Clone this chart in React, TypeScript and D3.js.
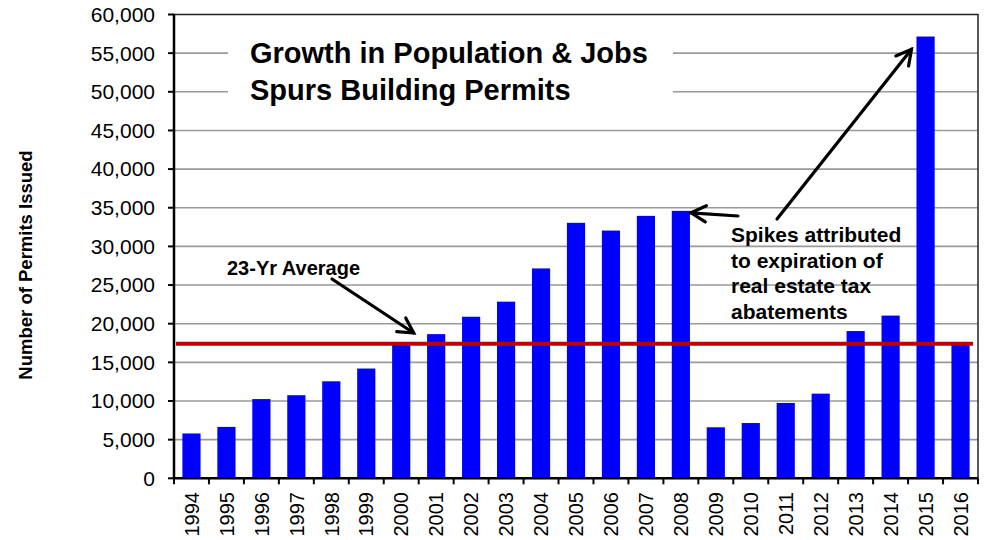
import * as d3 from "d3";
import React from "react";

const years = [
  "1994", "1995", "1996", "1997", "1998", "1999", "2000", "2001", "2002", "2003", "2004", "2005",
  "2006", "2007", "2008", "2009", "2010", "2011", "2012", "2013", "2014", "2015", "2016",
];
const permits = [
  5800, 6650, 10250, 10750, 12550, 14200, 17300, 18650, 20900, 22850, 27150, 33050,
  32050, 33950, 34600, 6600, 7150, 9750, 10950, 19050, 21050, 57150, 17300,
];
const average = 17400;
const yTicks = d3.range(0, 60001, 5000);
const titleLines = ["Growth in Population & Jobs", "Spurs Building Permits"];
const avgLabel = "23-Yr Average";
const spikeLines = ["Spikes attributed", "to expiration of", "real estate tax", "abatements"];

const W = 988;
const H = 540;
const left = 174;
const right = 978;
const top = 14.5;
const bottom = 478.3;
const font = "'Liberation Sans', Arial, sans-serif";

// open arrow: line plus two short head strokes
function Arrow({ x1, y1, x2, y2 }: { x1: number; y1: number; x2: number; y2: number }) {
  const a = Math.atan2(y2 - y1, x2 - x1);
  const len = 17;
  const spread = 0.5;
  const h1 = [x2 - len * Math.cos(a - spread), y2 - len * Math.sin(a - spread)];
  const h2 = [x2 - len * Math.cos(a + spread), y2 - len * Math.sin(a + spread)];
  return (
    <g stroke="#000" strokeWidth={3.2} fill="none" strokeLinecap="round">
      <line x1={x1} y1={y1} x2={x2} y2={y2} />
      <polyline points={`${h1[0]},${h1[1]} ${x2},${y2} ${h2[0]},${h2[1]}`} />
    </g>
  );
}

export default function App() {
  const x = d3.scaleBand<string>().domain(years).range([left, right]).paddingInner(0.48).paddingOuter(0.24);
  const y = d3.scaleLinear().domain([0, 60000]).range([bottom, top]);
  const step = x.step();
  const bw = x.bandwidth();
  const fmt = d3.format(",");

  const i2008 = years.indexOf("2008");
  const i2001 = years.indexOf("2001");

  return (
    <svg width={W} height={H} style={{ position: "absolute", left: 0, top: 0, background: "#fff" }} fontFamily={font}>
      {/* gridlines */}
      {yTicks.slice(1, -1).map((t) => (
        <line key={t} x1={left} x2={right} y1={y(t)} y2={y(t)} stroke="#9a9a9a" strokeWidth={1.6} />
      ))}
      {/* title box masks gridlines */}
      <rect x={228} y={32} width={445} height={80} fill="#fff" />
      {titleLines.map((s, i) => (
        <text key={s} x={250} y={63 + i * 37} fontSize={29} fontWeight="bold" fill="#000">
          {s}
        </text>
      ))}

      {/* bars */}
      {years.map((yr, i) => (
        <rect key={yr} x={x(yr)} y={y(permits[i])} width={bw} height={bottom - y(permits[i])} fill="#0000ff" />
      ))}

      {/* average line */}
      <line x1={left + 2} x2={right - 5} y1={y(average)} y2={y(average)} stroke="#c00000" strokeWidth={4} />

      {/* frame */}
      <rect x={left} y={top} width={right - left} height={bottom - top} fill="none" stroke="#222" strokeWidth={1.5} />
      <line x1={left} x2={left} y1={top} y2={bottom} stroke="#000" strokeWidth={2.5} />
      <line x1={left - 1} x2={right} y1={bottom} y2={bottom} stroke="#000" strokeWidth={2.5} />

      {/* y axis */}
      {yTicks.map((t) => (
        <g key={t}>
          <line x1={left - 6} x2={left} y1={y(t)} y2={y(t)} stroke="#000" strokeWidth={2} />
          <text x={155} y={y(t)} dy="0.35em" textAnchor="end" fontSize={21} fill="#000">
            {fmt(t)}
          </text>
        </g>
      ))}
      <text
        transform={`translate(32,265) rotate(-90)`}
        textAnchor="middle"
        fontSize={18.5}
        fontWeight="bold"
        fill="#000"
      >
        Number of Permits Issued
      </text>

      {/* x axis */}
      {d3.range(years.length + 1).map((i) => (
        <line key={i} x1={left + i * step} x2={left + i * step} y1={bottom} y2={bottom + 6} stroke="#000" strokeWidth={2} />
      ))}
      {years.map((yr) => (
        <text
          key={yr}
          transform={`translate(${(x(yr) as number) + bw / 2},492) rotate(-90)`}
          dy="0.36em"
          textAnchor="end"
          fontSize={20}
          fill="#000"
        >
          {yr}
        </text>
      ))}

      {/* annotations */}
      <text x={227} y={275} fontSize={20} fontWeight="bold" fill="#000">
        {avgLabel}
      </text>
      <Arrow x1={332} y1={279} x2={left + i2001 * step - 5} y2={y(18800)} />

      {spikeLines.map((s, i) => (
        <text key={s} x={731} y={242 + i * 25.5} fontSize={21} fontWeight="bold" fill="#000">
          {s}
        </text>
      ))}
      <Arrow x1={738} y1={216} x2={(x("2008") as number) + bw + 1} y2={y(permits[i2008]) + 2} />
      <Arrow x1={777} y1={219} x2={(x("2015") as number) - 5} y2={y(55500)} />
    </svg>
  );
}
